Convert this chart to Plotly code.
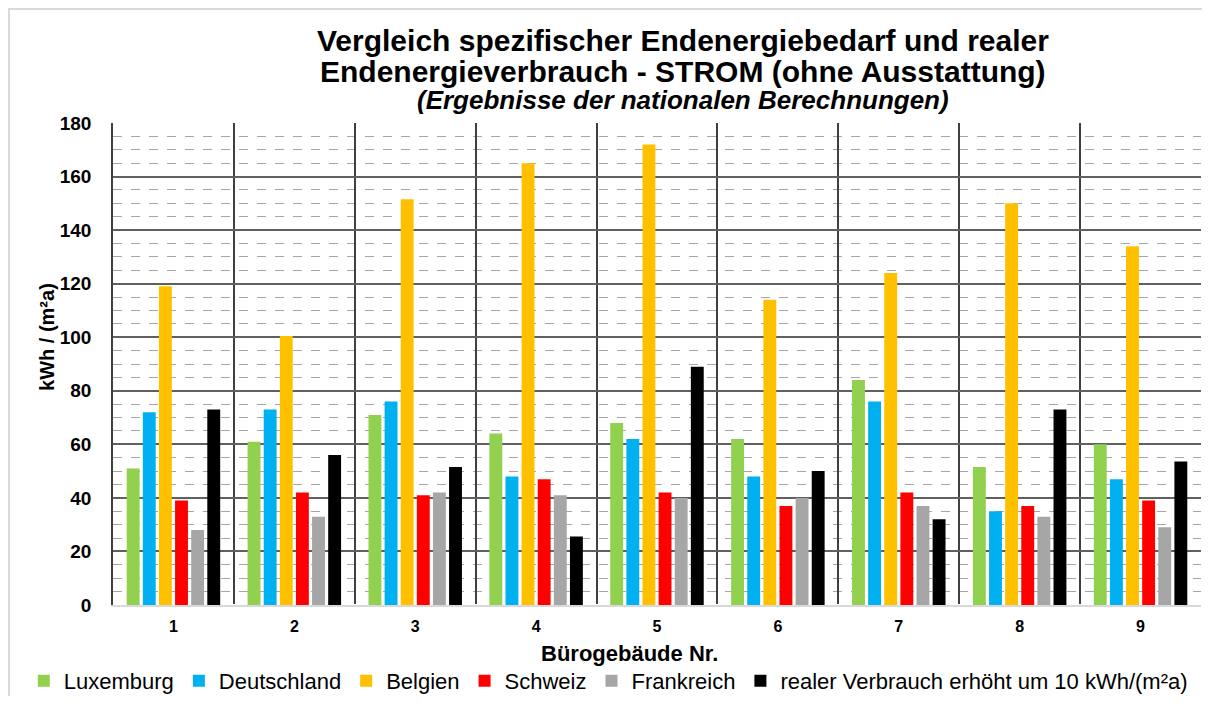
import plotly.graph_objects as go

buildings = ["1", "2", "3", "4", "5", "6", "7", "8", "9"]

luxemburg = [51, 61, 71, 64, 68, 62, 84, 51.5, 60]
deutschland = [72, 73, 76, 48, 62, 48, 76, 35, 47]
belgien = [119, 100.5, 151.5, 165, 172, 114, 124, 150, 134]
schweiz = [39, 42, 41, 47, 42, 37, 42, 37, 39]
frankreich = [28, 33, 42, 41, 40, 40, 37, 33, 29]
realer_verbrauch = [73, 56, 51.5, 25.6, 89, 50, 32, 73, 53.6]

y_ticks = list(range(0, 181, 20))

series = [
    ("Luxemburg", luxemburg, "#92D050"),
    ("Deutschland", deutschland, "#00B0F0"),
    ("Belgien", belgien, "#FFC000"),
    ("Schweiz", schweiz, "#FF0000"),
    ("Frankreich", frankreich, "#A6A6A6"),
    ("realer Verbrauch erhöht um 10 kWh/(m²a)", realer_verbrauch, "#000000"),
]

font = "Liberation Sans, Arial, sans-serif"

fig = go.Figure()
for name, vals, color in series:
    fig.add_trace(go.Bar(x=buildings, y=vals, name=name,
                         marker=dict(color=color, line=dict(width=0))))

# title lines as annotations so the line spacing matches
titles = [
    ("<b>Vergleich spezifischer Endenergiebedarf und realer</b>", 30, 1.172),
    ("<b>Endenergieverbrauch - STROM (ohne Ausstattung)</b>", 30, 1.107),
    ("<b><i>(Ergebnisse der nationalen Berechnungen)</i></b>", 26, 1.047),
]
for txt, size, ypos in titles:
    fig.add_annotation(text=txt, x=0.5239, y=ypos, xref="paper", yref="paper",
                       xanchor="center", yanchor="middle", showarrow=False,
                       font=dict(family=font, size=size, color="#000000"))

# axis titles as annotations (y title sits above the middle, x title left of centre)
fig.add_annotation(text="<b>kWh / (m²a)</b>", textangle=-90, x=-0.0607, y=0.556,
                   xref="paper", yref="paper", xanchor="center", yanchor="middle",
                   showarrow=False, font=dict(family=font, size=20, color="#000000"))
fig.add_annotation(text="<b>Bürogebäude Nr.</b>", x=0.4743, y=-0.0996,
                   xref="paper", yref="paper", xanchor="center", yanchor="middle",
                   showarrow=False, font=dict(family=font, size=22, color="#000000"))

# light frame around the chart
fig.add_shape(type="rect", xref="paper", yref="paper",
              x0=-0.0956, x1=1.05, y0=-0.4, y1=1.2365,
              line=dict(color="#D9D9D9", width=2), fillcolor="rgba(0,0,0,0)")

fig.update_xaxes(type="category", tickson="boundaries", showgrid=True,
                 gridcolor="#404040", gridwidth=1.5,
                 showline=True, linecolor="#D9D9D9", linewidth=1.5,
                 ticks="", automargin=False, ticklabelstandoff=6,
                 tickvals=buildings, ticktext=["<b>%s</b>" % b for b in buildings],
                 tickfont=dict(family=font, size=16, color="#000000"))
fig.update_yaxes(range=[0, 180], showgrid=True,
                 gridcolor="#606060", gridwidth=1.5,
                 showline=True, linecolor="#404040", linewidth=1.5,
                 ticks="", ticklabelstandoff=16, automargin=False,
                 tickvals=y_ticks, ticktext=["<b>%d</b>" % v for v in y_ticks],
                 tickfont=dict(family=font, size=19, color="#000000"),
                 minor=dict(dtick=5, showgrid=True, gridcolor="#A6A6A6",
                            griddash="dash", gridwidth=1))

fig.update_layout(
    width=1194, height=688,
    margin=dict(l=105, r=1, t=115, b=91, autoexpand=False),
    barmode="group", bargap=0.2, bargroupgap=0.2,
    plot_bgcolor="#FFFFFF", paper_bgcolor="#FFFFFF",
    font=dict(family=font, color="#000000"),
    legend=dict(orientation="h", x=-0.082, y=-0.1577, xanchor="left", yanchor="middle",
                font=dict(family=font, size=22, color="#000000"),
                itemclick=False, itemdoubleclick=False),
    showlegend=True,
)

fig.write_html("out.html")
